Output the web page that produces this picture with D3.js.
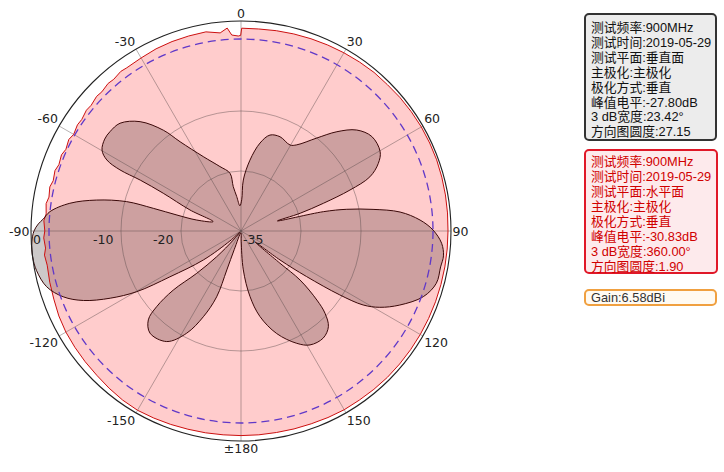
<!DOCTYPE html>
<html><head><meta charset="utf-8">
<script src="https://cdn.jsdelivr.net/npm/d3@7"></script>
<style>
body{margin:0;background:#fff}
#wrap{position:relative;width:724px;height:472px;overflow:hidden}
svg{display:block;position:absolute;left:0;top:0}
.box{position:absolute;box-sizing:border-box;border-radius:5px;border:2px solid #333}
.ln{position:absolute;white-space:nowrap;font-family:'Liberation Sans','Noto Sans CJK SC',sans-serif;font-size:12.8px;line-height:14px;height:14px}
</style>
</head><body>
<div id="wrap"><svg id="c" width="724" height="472"></svg></div>
<script>
// ---- data ----
const angleTicks = [0, 30, 60, 90, 120, 150, 180, -150, -120, -90, -60, -30];
const angleLabels = ["0", "30", "60", "90", "120", "150", "±180", "-150", "-120", "-90", "-60", "-30"];
const dbTicks = [0, -10, -20, -35];
const dbTickLabels = ["0", "-10", "-20", "-35"];
const gridRings = [-25, -15];
const refLevel = -3;

// horizontal plane (red)
const hAngles = [-180,-175,-170,-165,-160,-155,-150,-145,-140,-135,-130,-125,-120,-115,-110,-105,-100,-97,-95,-92,-90,-87,-85,-82,-80,-77,-75,-72,-70,-67,-65,-62,-60,-57,-55,-52,-50,-47,-45,-42,-40,-37,-35,-30,-25,-20,-15,-10,-6,-3.9,-2.7,-0.8,-0.1,0.2,5,10,15,20,25,30,35,40,45,50,55,60,65,70,75,80,85,90,95,100,105,110,115,120,125,130,135,140,145,150,155,160,165,170,175];
const hDb = [-0.9,-0.9,-0.85,-0.8,-0.7,-0.6,-0.5,-0.6,-0.8,-1.0,-1.1,-1.2,-1.3,-1.5,-1.8,-2.0,-2.2,-2.0,-2.3,-2.1,-2.3,-2.1,-2.4,-2.2,-2.5,-2.3,-2.6,-2.4,-2.7,-2.5,-2.8,-2.5,-2.8,-2.5,-2.6,-2.3,-2.4,-2.1,-2.2,-1.9,-2.0,-1.7,-1.8,-1.7,-1.5,-1.4,-1.35,-1.3,-1.8,-1.1,-2.3,-2.5,-2.4,-1.2,-1.2,-1.1,-1.0,-0.9,-0.8,-0.7,-0.6,-0.5,-0.5,-0.4,-0.35,-0.3,-0.3,-0.3,-0.35,-0.4,-0.45,-0.5,-0.5,-0.5,-0.5,-0.5,-0.5,-0.5,-0.5,-0.5,-0.5,-0.55,-0.6,-0.6,-0.7,-0.8,-0.85,-0.9,-0.9];

// vertical plane (dark lobes), ordered along the outline
const vAngles = [-179,-160,-160,-159.7,-156.3,-152,-146.1,-138.3,-133.8,-131.9,-131.1,-133.7,-136.6,-139.4,-135,-132,-127.6,-122.8,-120.2,-117.2,-113.8,-110.3,-106,-101,-97,-93,-90,-88,-86.5,-84.2,-80.8,-77.9,-75.6,-75.5,-76,-76.1,-71.4,-67.6,-64.1,-63.2,-63.2,-62.1,-59.8,-56,-52.8,-48.3,-42.7,-37.6,-34.3,-26.9,-18.1,-10.8,-9.9,-7.1,-2.5,1.3,2.6,7.2,12.2,16.8,22.5,29.7,32.9,39.2,44,48.9,54.2,60.3,63.8,67.2,69.4,71.4,73.3,74.5,76.8,78.4,80.7,83.2,86.5,89.7,93.5,97,100.2,105,109.8,115,118.8,121.2,122.9,124.8,126.6,128,129.6,129.7,132.3,134.4,137.6,142.5,148.8,153.6,160.8,167.5,172.2,176.6,179];
const vDb = [-34.7,-31.7,-28.1,-23.3,-19.4,-15.7,-12.8,-12.2,-13.6,-16.1,-20.0,-24.8,-29.1,-33.0,-34.7,-32.5,-27.1,-20.9,-14.9,-10.5,-6.3,-3.4,-1.3,-0.3,0,-0.1,-0.5,-1.2,-2.0,-3.0,-6.1,-10.4,-15.3,-19.9,-24.0,-27.4,-30.1,-25.8,-20.6,-16.2,-12.4,-9.7,-8.2,-7.6,-7.6,-8.0,-10.2,-13.8,-17.0,-21.1,-23.7,-25.2,-27.5,-29.2,-30.8,-29.8,-26.5,-23.1,-20.0,-18.3,-18.0,-18.5,-17.9,-15.0,-12.0,-9.4,-8.1,-8.3,-9.5,-11.7,-15.6,-20.5,-24.7,-28.7,-20.9,-17.0,-12.7,-8.3,-5.1,-3.0,-1.5,-1.0,-1.2,-1.3,-2.7,-5.8,-8.6,-11.2,-15.4,-21.7,-26.9,-32.0,-26.6,-22.2,-17.9,-15.4,-13.4,-12.5,-12.8,-14.1,-16.9,-20.4,-24.0,-28.5,-33.3];

const legendV = ["测试频率:900MHz","测试时间:2019-05-29","测试平面:垂直面","主极化:主极化","极化方式:垂直","峰值电平:-27.80dB","3 dB宽度:23.42°","方向图圆度:27.15"];
const legendH = ["测试频率:900MHz","测试时间:2019-05-29","测试平面:水平面","主极化:主极化","极化方式:垂直","峰值电平:-30.83dB","3 dB宽度:360.00°","方向图圆度:1.90"];
const gainText = "Gain:6.58dBi";

// ---- drawing ----
const svg = d3.select("#c");
const cx = 241, cy = 231, R = 210;
const r = d3.scaleLinear().domain([-35, 0]).range([0, R]);
const rad = a => a * Math.PI / 180;
const g = svg.append("g").attr("transform", `translate(${cx},${cy})`);

const hData = hAngles.map((a, i) => ({a, v: hDb[i]}));
const vData = vAngles.map((a, i) => ({a, v: vDb[i]}));

const hLine = d3.lineRadial().angle(d => rad(d.a)).radius(d => r(d.v)).curve(d3.curveLinearClosed);
const vLine = d3.lineRadial().angle(d => rad(d.a)).radius(d => r(d.v)).curve(d3.curveCatmullRomClosed.alpha(0.5));

g.append("path").attr("d", hLine(hData)).attr("fill", "#ffcccc").attr("stroke", "none");
g.append("path").attr("d", vLine(vData)).attr("fill", "rgba(20,0,0,0.21)").attr("stroke", "none");

// grid
const gridColor = "rgba(80,70,70,0.42)";
g.selectAll(".ring").data(gridRings).enter().append("circle")
  .attr("r", d => r(d)).attr("fill", "none").attr("stroke", gridColor).attr("stroke-width", 1);
g.selectAll(".spoke").data(angleTicks).enter().append("line")
  .attr("x1", 0).attr("y1", 0)
  .attr("x2", d => r(0) * Math.sin(rad(d)))
  .attr("y2", d => -r(0) * Math.cos(rad(d)))
  .attr("stroke", gridColor).attr("stroke-width", 1);

g.append("path").attr("d", hLine(hData)).attr("fill", "none").attr("stroke", "#cc1010").attr("stroke-width", 1);
g.append("path").attr("d", vLine(vData)).attr("fill", "none").attr("stroke", "#3a0808").attr("stroke-width", 1);

g.append("circle").attr("r", r(refLevel)).attr("fill", "none")
  .attr("stroke", "#6038c8").attr("stroke-width", 1.3).attr("stroke-dasharray", "8,5");
g.append("circle").attr("r", r(0)).attr("fill", "none").attr("stroke", "#222").attr("stroke-width", 1.1);

// angle labels
const lab = g.append("g").attr("font-family", "DejaVu Sans, sans-serif").attr("font-size", 12.5).attr("fill", "#222");
angleTicks.forEach((a, i) => {
  const s = Math.sin(rad(a)), c = -Math.cos(rad(a));
  const x = (R + 1.5) * s, y = (R + 1.5) * c;
  const anchor = s > 0.01 ? "start" : (s < -0.01 ? "end" : "middle");
  const dy = c < -0.01 ? "-0.15em" : (c > 0.01 ? "0.85em" : "0.36em");
  lab.append("text").attr("x", x).attr("y", y).attr("dy", dy).attr("text-anchor", anchor).text(angleLabels[i]);
});
// radial tick labels
dbTicks.forEach((d, i) => {
  lab.append("text").attr("x", -r(d) + 2).attr("y", 0).attr("dy", "1.05em").attr("text-anchor", "start").text(dbTickLabels[i]);
});

// legends (HTML)
const wrap = d3.select("#wrap");
function box(x, y, w, h, stroke, fill) {
  wrap.append("div").attr("class", "box")
    .style("left", x + "px").style("top", y + "px").style("width", w + "px").style("height", h + "px")
    .style("border-color", stroke).style("background", fill);
}
function lines(arr, x, firstBaseline, step, color) {
  arr.forEach((t, i) => {
    wrap.append("div").attr("class", "ln")
      .style("left", x + "px").style("top", (firstBaseline + i * step - 11.5) + "px")
      .style("color", color).text(t);
  });
}
box(584, 13, 133, 128, "#333", "#ececec");
lines(legendV, 591, 32.5, 14.9, "#111");
box(584, 149, 134, 125, "#e01828", "#fdeaec");
lines(legendH, 591, 166.5, 15, "#d00000");
box(584, 289, 133, 17, "#f0a040", "#fffaf2");
lines([gainText], 591, 302, 15, "#333");
</script>
</body></html>
